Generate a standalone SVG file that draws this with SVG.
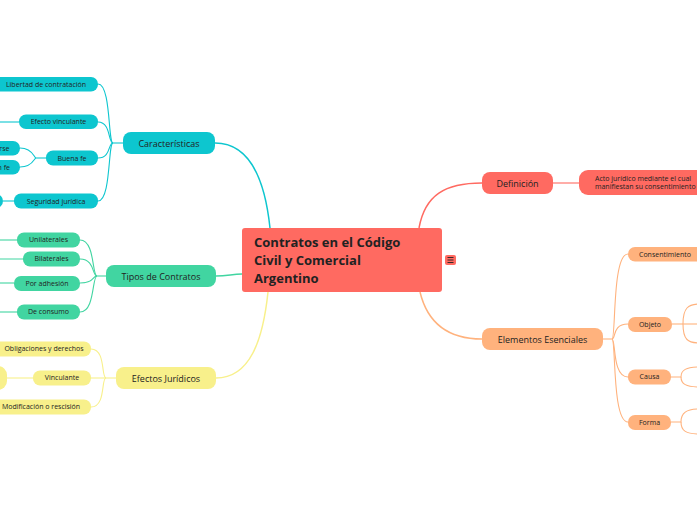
<svg xmlns="http://www.w3.org/2000/svg" width="697" height="520" viewBox="0 0 697 520">
<style>
text{font-family:"Open Sans","Noto Sans","DejaVu Sans",sans-serif;fill:#222}
.c{font-size:7px;text-anchor:middle}
.m{font-size:9px;text-anchor:middle}
.t{font-size:13px;font-weight:bold}
.d{font-size:7px}
.lt{fill:#0DC6CF}.lg{fill:#41D5A1}.ly{fill:#F8F08B}.lr{fill:#FF6A61}.lo{fill:#FFB27D}
.st{stroke:#0DC6CF}.sg{stroke:#41D5A1}.sy{stroke:#F8F08B}.sr{stroke:#FF6A61}.so{stroke:#FFB27D}
#connectors path{fill:none;stroke-width:1.1}
#connectors .b{stroke-width:1.5}
</style>
<rect width="697" height="520" fill="#ffffff"/>
<g id="connectors">
<path class="b st" d="M215,143 C255,143 266,190 270,228"/>
<path class="b sg" d="M216,276 C228,276 232,274 242,274"/>
<path class="b sy" d="M216,378 C250,378 263,340 268,292"/>
<path class="b sr" d="M419,228 C425,195 445,183 482,183"/>
<path class="b so" d="M420,292 C428,325 450,339 482,339"/>
<path class="st" d="M123,143 L113,143"/>
<path class="st" d="M113,143 C108,143 111,84 98,84"/>
<path class="st" d="M113,143 C108,143 111,122 98,122"/>
<path class="st" d="M113,143 C108,143 111,158 98,158"/>
<path class="st" d="M113,143 C108,143 111,201 98,201"/>
<path class="st" d="M-10,122 L19,122"/>
<path class="st" d="M46,158 L36,158"/>
<path class="st" d="M36,158 C34,158 33,148 20,148"/>
<path class="st" d="M36,158 C34,158 33,167 20,167"/>
<path class="st" d="M3,201 L14,201"/>
<path class="sg" d="M106,276 L97,276"/>
<path class="sg" d="M97,276 C92,276 95,240 80,240"/>
<path class="sg" d="M97,276 C92,276 95,259 80,259"/>
<path class="sg" d="M97,276 C92,276 95,283 80,283"/>
<path class="sg" d="M97,276 C92,276 95,312 80,312"/>
<path class="sg" d="M-10,240 L17,240"/>
<path class="sg" d="M-10,259 L23,259"/>
<path class="sg" d="M-10,283 L14,283"/>
<path class="sg" d="M-10,312 L17,312"/>
<path class="sy" d="M116,378 L106,378"/>
<path class="sy" d="M106,378 C101,378 106,349 91,349"/>
<path class="sy" d="M106,378 L91,378"/>
<path class="sy" d="M106,378 C101,378 106,407 91,407"/>
<path class="sy" d="M7,378 L33,378"/>
<path class="sr" d="M553,183 L579,183"/>
<path class="so" d="M603,339 L612,339"/>
<path class="so" d="M612,339 C616,339 612,254 628,254"/>
<path class="so" d="M612,339 C616,339 612,324 628,324"/>
<path class="so" d="M612,339 C616,339 612,377 628,377"/>
<path class="so" d="M612,339 C616,339 612,422 628,422"/>
<path class="so" d="M672,324 L700,324"/>
<path class="so" d="M683,324 C683,308 688,304 700,304"/>
<path class="so" d="M683,324 C683,340 688,343 700,343"/>
<path class="so" d="M671,377 L681,377 C681,370 686,367 700,367"/>
<path class="so" d="M681,377 C681,384 686,387 700,387"/>
<path class="so" d="M671,422 L681,422 C681,413 686,409 700,409"/>
<path class="so" d="M681,422 C681,431 686,434 700,434"/>
</g>
<g id="center">
<rect x="242" y="228" width="200" height="64" rx="3" class="lr"/>
<text class="t" x="254" y="247">Contratos en el Código</text>
<text class="t" x="254" y="265">Civil y Comercial</text>
<text class="t" x="254" y="283">Argentino</text>
<rect x="445" y="255" width="11" height="10" rx="2" class="lr"/>
<path d="M447.5,257.5h6M447.5,260h6M447.5,262.5h6" stroke="#222" stroke-width="0.9"/>
</g>
<g id="caracteristicas">
<rect x="123" y="132" width="92" height="22" rx="8" class="lt"/>
<text class="m" x="169" y="146.5">Características</text>
</g>
<g id="libertad">
<rect x="-8" y="77" width="106" height="14.5" rx="7" class="lt"/>
<text class="c" x="46" y="86.5">Libertad de contratación</text>
</g>
<g id="efecto">
<rect x="19" y="114.5" width="79" height="14.5" rx="7" class="lt"/>
<text class="c" x="58.5" y="124.3">Efecto vinculante</text>
</g>
<g id="buenafe">
<rect x="46" y="150.5" width="52" height="15" rx="7" class="lt"/>
<text class="c" x="72" y="160.5">Buena fe</text>
</g>
<g id="buenafe-1">
<rect x="-40" y="141" width="60" height="14.5" rx="7" class="lt"/>
<text class="d" x="9.5" y="150.5" text-anchor="end">rse</text>
</g>
<g id="buenafe-2">
<rect x="-40" y="160" width="60" height="14.5" rx="7" class="lt"/>
<text class="d" x="10" y="169.5" text-anchor="end">n fe</text>
</g>
<g id="seguridad">
<rect x="14" y="193.5" width="84" height="15" rx="7" class="lt"/>
<text class="c" x="56" y="203.5">Seguridad jurídica</text>
</g>
<g id="seguridad-1">
<rect x="-40" y="194" width="43" height="14" rx="7" class="lt"/>
</g>
<g id="tipos">
<rect x="106" y="265" width="110" height="22" rx="8" class="lg"/>
<text class="m" x="161" y="279.5">Tipos de Contratos</text>
</g>
<g id="unilaterales">
<rect x="17" y="232.5" width="63" height="15" rx="7" class="lg"/>
<text class="c" x="48.5" y="242.3">Unilaterales</text>
</g>
<g id="bilaterales">
<rect x="23" y="251.5" width="57" height="15" rx="7" class="lg"/>
<text class="c" x="51.5" y="261.3">Bilaterales</text>
</g>
<g id="adhesion">
<rect x="14" y="276" width="66" height="15" rx="7" class="lg"/>
<text class="c" x="47" y="285.8">Por adhesión</text>
</g>
<g id="consumo">
<rect x="17" y="304.5" width="63" height="15" rx="7" class="lg"/>
<text class="c" x="48.5" y="314.3">De consumo</text>
</g>
<g id="efectos">
<rect x="116" y="367" width="100" height="22" rx="8" class="ly"/>
<text class="m" x="166" y="381.5">Efectos Jurídicos</text>
</g>
<g id="obligaciones">
<rect x="-10" y="341.5" width="101" height="15" rx="7" class="ly"/>
<text class="c" x="44" y="351.3">Obligaciones y derechos</text>
</g>
<g id="vinculante">
<rect x="33" y="370.5" width="58" height="15" rx="7" class="ly"/>
<text class="c" x="62" y="380.3">Vinculante</text>
</g>
<g id="vinculante-1">
<rect x="-40" y="366" width="47" height="24" rx="9" class="ly"/>
</g>
<g id="modificacion">
<rect x="-10" y="399.5" width="101" height="15" rx="7" class="ly"/>
<text class="c" x="41" y="409.3">Modificación o rescisión</text>
</g>
<g id="definicion">
<rect x="482" y="172" width="71" height="22" rx="8" class="lr"/>
<text class="m" x="517.5" y="186.5">Definición</text>
</g>
<g id="definicion-1">
<rect x="579" y="170" width="150" height="25" rx="9" class="lr"/>
<text class="d" x="595" y="180.5">Acto jurídico mediante el cual</text>
<text class="d" x="595" y="189">manifiestan su consentimiento</text>
</g>
<g id="elementos">
<rect x="482" y="328" width="121" height="22" rx="8" class="lo"/>
<text class="m" x="542.5" y="342.5">Elementos Esenciales</text>
</g>
<g id="consentimiento">
<rect x="628" y="247" width="75" height="14.5" rx="7" class="lo"/>
<text class="d" x="639" y="256.7">Consentimiento</text>
</g>
<g id="objeto">
<rect x="628" y="317" width="44" height="15" rx="7" class="lo"/>
<text class="c" x="650" y="326.8">Objeto</text>
</g>
<g id="causa">
<rect x="628" y="369.5" width="43" height="15" rx="7" class="lo"/>
<text class="c" x="649.5" y="379.3">Causa</text>
</g>
<g id="forma">
<rect x="628" y="415" width="43" height="15" rx="7" class="lo"/>
<text class="c" x="649.5" y="424.8">Forma</text>
</g>
</svg>
